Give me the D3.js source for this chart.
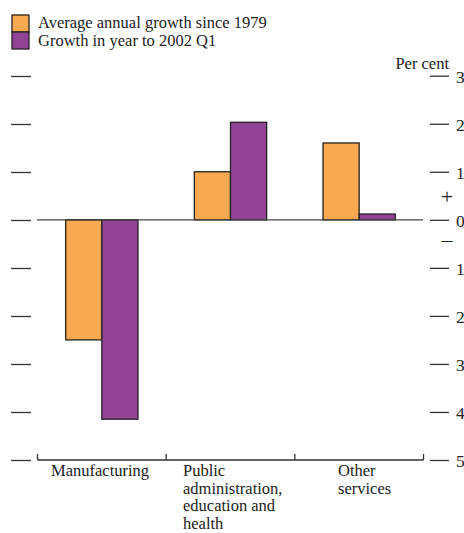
<!DOCTYPE html>
<html><head><meta charset="utf-8">
<script src="https://cdn.jsdelivr.net/npm/d3@7"></script>
<style>body{margin:0;background:#fff}svg{display:block}text{font-family:"Liberation Serif","DejaVu Serif",serif;fill:#222}</style>
</head><body><svg id="c" width="464" height="533"></svg>
<script>
const categories = ["Manufacturing", "Public administration, education and health", "Other services"];
const categoryLines = [["Manufacturing"], ["Public", "administration,", "education and", "health"], ["Other", "services"]];
const seriesNames = ["Average annual growth since 1979", "Growth in year to 2002 Q1"];
const avgSince1979 = [-2.5, 1.0, 1.6];
const yearTo2002Q1 = [-4.15, 2.03, 0.12];
const tickValues = [3, 2, 1, 0, -1, -2, -3, -4, -5];
const colors = ["#F9A94F", "#924396"];

const svg = d3.select("#c");
const y = d3.scaleLinear().domain([-5, 3]).range([460, 75.7]);
const x = d3.scaleBand().domain(categories).range([37.5, 423.5]).paddingInner(0).paddingOuter(0);
const inner = d3.scaleBand().domain([0, 1]).range([0, x.bandwidth()]).paddingOuter(0.78).paddingInner(0);

// left ticks
svg.append("g").selectAll("line").data(tickValues).join("line")
  .attr("x1", 11).attr("x2", 31).attr("y1", d => Math.round(y(d)) + 0.5).attr("y2", d => Math.round(y(d)) + 0.5)
  .attr("stroke", "#333").attr("stroke-width", 1.3);
// right axis
const rAxis = d3.axisRight(y).tickValues(tickValues).tickSize(0).tickPadding(26)
  .tickFormat(d => Math.abs(d));
const rg = svg.append("g").attr("transform", "translate(430,0)").call(rAxis);
rg.select(".domain").remove();
rg.selectAll(".tick text").attr("font-size", 17.5).attr("fill", "#222").attr("font-family", "Liberation Serif, serif").attr("dy", "0.38em");
rg.selectAll(".tick").append("line").attr("x1", 0).attr("x2", 19).attr("stroke", "#333").attr("stroke-width", 1.3);

svg.append("text").attr("x", 449).attr("y", 69).attr("text-anchor", "end").attr("font-size", 16.5).text("Per cent");
svg.append("text").attr("x", 447).attr("y", 204).attr("text-anchor", "middle").attr("font-size", 22).text("+");
svg.append("text").attr("x", 447).attr("y", 247).attr("text-anchor", "middle").attr("font-size", 22).text("\u2013");

// bars
const data = categories.map((c, i) => ({c, vals: [avgSince1979[i], yearTo2002Q1[i]]}));
const groups = svg.append("g").selectAll("g").data(data).join("g")
  .attr("transform", d => `translate(${x(d.c)},0)`);
groups.selectAll("rect").data(d => d.vals.map((v, k) => ({v, k}))).join("rect")
  .attr("x", d => inner(d.k)).attr("width", inner.bandwidth())
  .attr("y", d => y(Math.max(0, d.v))).attr("height", d => Math.abs(y(d.v) - y(0)))
  .attr("fill", d => colors[d.k]).attr("stroke", "#222").attr("stroke-width", 1.3);

// zero line
svg.append("line").attr("x1", 37).attr("x2", 423).attr("y1", y(0)).attr("y2", y(0))
  .attr("stroke", "#444").attr("stroke-width", 1.3);

// bottom axis
svg.append("line").attr("x1", 37.5).attr("x2", 423.5).attr("y1", 460).attr("y2", 460).attr("stroke", "#333").attr("stroke-width", 1.3);
const bticks = categories.map(c => x(c)).concat([x.range()[1]]);
svg.append("g").selectAll("line").data(bticks).join("line")
  .attr("x1", d => d).attr("x2", d => d).attr("y1", 454).attr("y2", 460).attr("stroke", "#333").attr("stroke-width", 1.3);

// category labels
const labelX = [51, 183, 338];
categoryLines.forEach((lines, i) => {
  const t = svg.append("text").attr("x", labelX[i]).attr("y", 476).attr("font-size", 16.5);
  lines.forEach((l, j) => t.append("tspan").attr("x", labelX[i]).attr("dy", j ? 17.5 : 0).text(l));
});

// legend
seriesNames.forEach((s, i) => {
  svg.append("rect").attr("x", 12).attr("y", 15 + i * 17).attr("width", 17).attr("height", 17)
    .attr("fill", colors[i]).attr("stroke", "#222").attr("stroke-width", 1.3);
  svg.append("text").attr("x", 38).attr("y", 28 + i * 18).attr("font-size", 16.5).text(s);
});
</script></body></html>
